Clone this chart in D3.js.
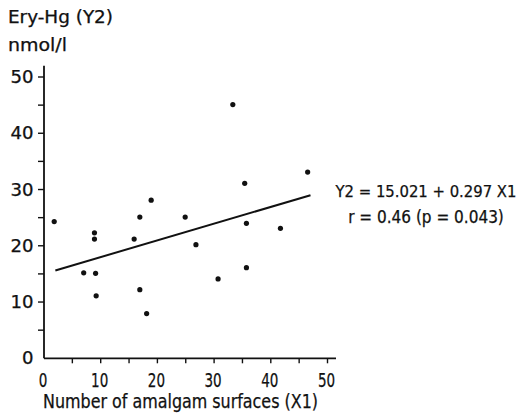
<!DOCTYPE html>
<html>
<head>
<meta charset="utf-8">
<script src="https://cdn.jsdelivr.net/npm/d3@7"></script>
<style>
  html, body { margin: 0; padding: 0; background: #fff; }
  svg { display: block; }
  text { font-family: "DejaVu Sans Condensed", "DejaVu Sans", sans-serif; fill: #111; stroke: #111; stroke-width: 0.25; }
</style>
</head>
<body>
<svg id="chart" width="520" height="415"></svg>
<script>
// Amalgam surfaces (X1) per subject
const amalgamSurfaces = [1.8, 7.0, 8.9, 8.9, 9.1, 9.2, 15.9, 16.9, 16.9, 18.1,
                         18.9, 24.9, 26.8, 30.7, 33.3, 35.4, 35.7, 35.7, 41.7, 46.5];
// Erythrocyte mercury (Y2), nmol/l
const eryHg = [24.3, 15.2, 22.3, 21.2, 15.1, 11.1, 21.2, 25.1, 12.2, 7.95,
               28.1, 25.1, 20.2, 14.1, 45.1, 31.1, 24.0, 16.1, 23.1, 33.1];
// Regression fit Y2 = a + b * X1, drawn across the observed X1 range
const fitIntercept = 15.021;
const fitSlope = 0.297;
const fitRange = [2, 47];
const xTickValues = [0, 10, 20, 30, 40, 50];
const yTickValues = [0, 10, 20, 30, 40, 50];
const minorTickValues = [5, 10, 15, 20, 25, 30, 35, 40, 45, 50];
const yTitleLines = ["Ery-Hg (Y2)", "nmol/l"];
const xTitle = "Number of amalgam surfaces (X1)";
const equationLines = ["Y2 = 15.021 + 0.297 X1", "r = 0.46 (p = 0.043)"];

const svg = d3.select("#chart");
const ink = "#111";

const x = d3.scaleLinear().domain([0, 50]).range([44, 327.5]);
const y = d3.scaleLinear().domain([0, 50]).range([358.3, 77]);

// squeeze a label to a set width, keeping its anchor
function fitWidth(sel, w) {
  sel.attr("textLength", w).attr("lengthAdjust", "spacingAndGlyphs");
}

// axes lines
svg.append("line").attr("x1", x(0)).attr("x2", x(51.5))
  .attr("y1", y(0)).attr("y2", y(0)).attr("stroke", ink).attr("stroke-width", 1.8);
svg.append("line").attr("x1", x(0)).attr("x2", x(0))
  .attr("y1", y(0)).attr("y2", y(52)).attr("stroke", ink).attr("stroke-width", 1.8);

// tick marks every 5 units
svg.append("g").selectAll("line").data(minorTickValues).join("line")
  .attr("x1", d => x(d)).attr("x2", d => x(d))
  .attr("y1", y(0)).attr("y2", y(0) + 5)
  .attr("stroke", ink).attr("stroke-width", 1.4);
svg.append("g").selectAll("line").data(minorTickValues).join("line")
  .attr("x1", x(0) - 6).attr("x2", x(0))
  .attr("y1", d => y(d)).attr("y2", d => y(d))
  .attr("stroke", ink).attr("stroke-width", 1.4);

// tick labels
svg.append("g").selectAll("text").data(xTickValues).join("text")
  .attr("x", d => x(d) - 1).attr("y", 386.5)
  .attr("text-anchor", "middle").attr("font-size", 20)
  .text(d => d)
  .each(function (d) { fitWidth(d3.select(this), String(d).length * 8.6); });
svg.append("g").selectAll("text").data(yTickValues).join("text")
  .attr("x", 33.5).attr("y", d => y(d) + 6)
  .attr("text-anchor", "end").attr("font-size", 17)
  .text(d => d)
  .each(function (d) { fitWidth(d3.select(this), String(d).length * 11.5); });

// titles
const yTitles = svg.append("g").selectAll("text").data(yTitleLines).join("text")
  .attr("x", 8).attr("y", (d, i) => 23 + i * 28)
  .attr("font-size", 17).text(d => d);
fitWidth(yTitles.filter((d, i) => i === 0), 105);
fitWidth(yTitles.filter((d, i) => i === 1), 59);
svg.append("text").attr("x", 43).attr("y", 408)
  .attr("font-size", 19).text(xTitle)
  .call(fitWidth, 275);

// regression line
const fit = fitRange.map(v => [v, fitIntercept + fitSlope * v]);
svg.append("path")
  .attr("d", d3.line().x(d => x(d[0])).y(d => y(d[1]))(fit))
  .attr("fill", "none").attr("stroke", ink).attr("stroke-width", 2);

// observations
svg.append("g").selectAll("circle").data(d3.zip(amalgamSurfaces, eryHg)).join("circle")
  .attr("cx", d => x(d[0])).attr("cy", d => y(d[1])).attr("r", 2.6)
  .attr("fill", ink);

// equation, plain text at a size that fits the right margin
svg.append("g").selectAll("text").data(equationLines).join("text")
  .attr("x", 426).attr("y", (d, i) => 196.5 + i * 26.5)
  .attr("text-anchor", "middle").attr("font-size", (d, i) => i === 0 ? 16.5 : 17)
  .text(d => d);
</script>
</body>
</html>
